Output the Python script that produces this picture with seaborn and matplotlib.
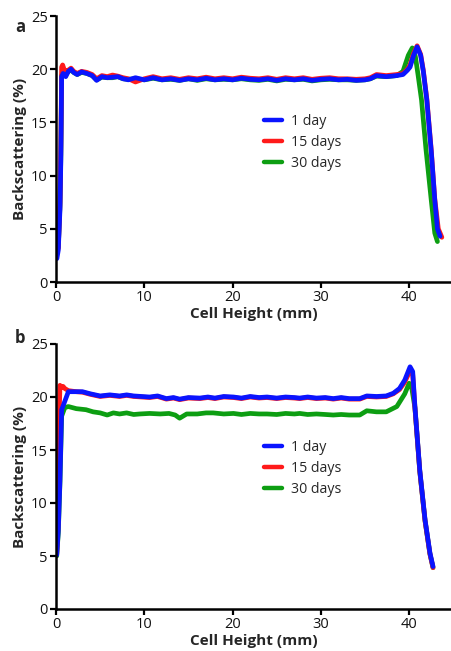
import matplotlib
matplotlib.use("Agg")
import matplotlib.pyplot as plt
import seaborn as sns
import pandas as pd

# ---------------- data ----------------
labels = ["1 day", "15 days", "30 days"]
colors = {"1 day": "#0a14ff", "15 days": "#ff1a1a", "30 days": "#0d9e12"}

# Panel a
a_1day = [(0.1, 2.2), (0.26, 3.0), (0.45, 6.8), (0.55, 11.5), (0.64, 19.3), (0.8, 19.6),
          (1.1, 19.3), (1.4, 19.8), (1.7, 20.0), (2.0, 19.7), (2.4, 19.5), (2.9, 19.75),
          (3.5, 19.6), (4.1, 19.4), (4.6, 18.95), (5.2, 19.3), (5.8, 19.2), (6.4, 19.25),
          (7.0, 19.3), (7.6, 19.1), (8.2, 19.0), (9.0, 19.2), (10.0, 19.0), (11, 19.2),
          (12, 19.0), (13, 19.1), (14, 18.95), (15, 19.1), (16, 19.0), (17, 19.15),
          (18, 19.0), (19, 19.1), (20, 19.0), (21, 19.15), (22, 19.05), (23, 19.0),
          (24, 19.1), (25, 18.95), (26, 19.1), (27, 19.0), (28, 19.1), (29, 18.95),
          (30, 19.05), (31, 19.1), (32, 19.0), (33, 19.05), (34, 18.95), (35, 19.0),
          (35.6, 19.1), (36.3, 19.4), (37.4, 19.3), (38.6, 19.4), (39.3, 19.5), (39.8, 19.9),
          (40.1, 20.2), (40.5, 21.3), (40.9, 22.1), (41.3, 21.3), (41.6, 19.8), (42.0, 17.1),
          (42.5, 12.3), (42.9, 7.7), (43.2, 5.0), (43.5, 4.3)]
a_15days = [(0.03, 2.6), (0.26, 3.2), (0.45, 7.5), (0.55, 13.0), (0.64, 20.2), (0.75, 20.4),
            (0.95, 19.9), (1.2, 19.8), (1.7, 20.1), (2.0, 19.8), (2.4, 19.6), (2.9, 19.8),
            (3.5, 19.7), (4.1, 19.5), (4.6, 19.1), (5.2, 19.4), (5.8, 19.3), (6.4, 19.45),
            (7.0, 19.35), (7.6, 19.2), (8.2, 19.1), (9.0, 18.8), (10.0, 19.1), (11, 19.3),
            (12, 19.1), (13, 19.2), (14, 19.05), (15, 19.2), (16, 19.1), (17, 19.25),
            (18, 19.1), (19, 19.2), (20, 19.1), (21, 19.25), (22, 19.15), (23, 19.1),
            (24, 19.2), (25, 19.05), (26, 19.2), (27, 19.1), (28, 19.2), (29, 19.05),
            (30, 19.15), (31, 19.2), (32, 19.1), (33, 19.1), (34, 19.05), (35, 19.1),
            (35.6, 19.2), (36.3, 19.5), (37.4, 19.4), (38.6, 19.5), (39.3, 19.6), (39.8, 20.0),
            (40.1, 20.4), (40.5, 21.5), (40.9, 22.2), (41.3, 21.4), (41.6, 19.9), (42.0, 17.2),
            (42.5, 12.4), (42.9, 7.8), (43.3, 5.0), (43.7, 4.2)]
a_30days = [(0.03, 2.7), (0.26, 3.3), (0.45, 7.2), (0.55, 12.0), (0.64, 19.4), (0.8, 19.7),
            (1.1, 19.5), (1.4, 19.8), (1.7, 19.9), (2.0, 19.7), (2.4, 19.5), (2.9, 19.7),
            (3.5, 19.6), (4.1, 19.4), (4.6, 19.0), (5.2, 19.25), (5.8, 19.2), (6.4, 19.2),
            (7.0, 19.3), (7.6, 19.1), (8.2, 19.05), (9.0, 19.1), (10.0, 19.0), (11, 19.15),
            (12, 19.0), (13, 19.05), (14, 18.95), (15, 19.1), (16, 18.95), (17, 19.1),
            (18, 19.0), (19, 19.05), (20, 19.0), (21, 19.1), (22, 19.0), (23, 18.95),
            (24, 19.05), (25, 18.9), (26, 19.05), (27, 19.0), (28, 19.05), (29, 18.9),
            (30, 19.0), (31, 19.05), (32, 19.0), (33, 19.0), (34, 18.95), (35, 19.0),
            (35.6, 19.1), (36.3, 19.35), (37.4, 19.3), (38.6, 19.4), (39.3, 19.8), (39.9, 21.3),
            (40.35, 22.0), (40.7, 21.2), (41.0, 19.5), (41.4, 17.1), (41.9, 12.5),
            (42.5, 7.7), (42.9, 4.6), (43.2, 3.8)]

# Panel b
b_1day = [(0.08, 5.1), (0.26, 7.4), (0.45, 12.2), (0.64, 18.8), (1.0, 19.6), (1.4, 20.5),
          (2.3, 20.5), (3.0, 20.5), (3.9, 20.3), (5.0, 20.1), (6.1, 20.2), (7.2, 20.1),
          (8.0, 20.2), (8.8, 20.1), (9.7, 20.05), (10.6, 20.0), (11.5, 20.1), (12.5, 19.85),
          (13.3, 19.95), (14.0, 19.8), (15.0, 19.95), (16.3, 19.9), (17.2, 20.0), (18.0, 19.9),
          (19.0, 20.05), (20.1, 20.0), (21.0, 19.9), (22.0, 20.05), (23.0, 19.95), (23.9, 20.0),
          (25.0, 19.9), (26.0, 20.0), (27.0, 19.95), (27.6, 19.9), (28.5, 20.0), (29.5, 19.9),
          (30.5, 19.95), (31.4, 19.85), (32.3, 19.95), (33.2, 19.85), (34.4, 19.85), (35.2, 20.1),
          (36.3, 20.05), (37.4, 20.1), (38.2, 20.35), (38.9, 20.8), (39.5, 21.6), (40.1, 22.85),
          (40.4, 22.4), (40.65, 19.1), (41.2, 13.1), (41.8, 8.4), (42.35, 5.3), (42.7, 4.0)]
b_15days = [(0.08, 5.2), (0.26, 8.5), (0.4, 19.5), (0.45, 21.1), (0.6, 20.9), (0.8, 21.0),
            (1.0, 20.8), (1.4, 20.6), (2.3, 20.5), (3.0, 20.45), (3.9, 20.25), (5.0, 20.05),
            (6.1, 20.15), (7.2, 20.05), (8.0, 20.15), (8.8, 20.05), (9.7, 20.0), (10.6, 19.95),
            (11.5, 20.05), (12.5, 19.8), (13.3, 19.9), (14.0, 19.75), (15.0, 19.9), (16.3, 19.85),
            (17.2, 19.95), (18.0, 19.85), (19.0, 20.0), (20.1, 19.95), (21.0, 19.85), (22.0, 20.0),
            (23.0, 19.9), (23.9, 19.95), (25.0, 19.85), (26.0, 19.95), (27.0, 19.9), (27.6, 19.85),
            (28.5, 19.95), (29.5, 19.85), (30.5, 19.9), (31.4, 19.8), (32.3, 19.9), (33.2, 19.8),
            (34.4, 19.8), (35.2, 20.05), (36.3, 20.0), (37.4, 20.05), (38.2, 20.3), (38.9, 20.7),
            (39.5, 21.4), (40.1, 22.5), (40.4, 22.1), (40.65, 19.0), (41.2, 13.0), (41.8, 8.3),
            (42.35, 5.2), (42.7, 3.9)]
b_30days = [(0.08, 5.0), (0.26, 7.2), (0.45, 12.0), (0.64, 18.2), (1.0, 19.0), (1.4, 19.1),
            (2.3, 18.9), (3.4, 18.8), (4.2, 18.6), (5.0, 18.5), (5.8, 18.3), (6.5, 18.5),
            (7.2, 18.4), (8.0, 18.5), (8.8, 18.35), (9.5, 18.4), (10.6, 18.45), (11.8, 18.4),
            (12.8, 18.45), (13.5, 18.3), (14.0, 18.0), (14.8, 18.4), (16.0, 18.4), (17.0, 18.5),
            (17.8, 18.5), (19.0, 18.4), (20.1, 18.45), (21.0, 18.35), (22.0, 18.45), (23.0, 18.4),
            (23.9, 18.4), (25.0, 18.35), (26.0, 18.45), (27.0, 18.4), (27.6, 18.45), (28.5, 18.35),
            (29.5, 18.4), (30.5, 18.35), (31.4, 18.3), (32.3, 18.35), (33.2, 18.3), (34.4, 18.3),
            (35.2, 18.7), (36.3, 18.6), (37.4, 18.6), (38.6, 19.1), (39.5, 20.3), (40.0, 21.3),
            (40.3, 20.8), (40.65, 19.0), (41.2, 13.0), (41.8, 8.3), (42.35, 5.2), (42.7, 3.9)]

panels = [("a", {"1 day": a_1day, "15 days": a_15days, "30 days": a_30days}),
          ("b", {"1 day": b_1day, "15 days": b_15days, "30 days": b_30days})]

x_ticks = [0, 10, 20, 30, 40]
y_ticks = [0, 5, 10, 15, 20, 25]

# ---------------- plotting ----------------
sns.set_theme(style="ticks")
plt.rcParams["font.family"] = ["Open Sans", "DejaVu Sans"]

W, H = 452, 651
fig = plt.figure(figsize=(W / 100, H / 100), dpi=100)

def frac_box(left, top, right, bottom):
    return [left / W, 1 - bottom / H, (right - left) / W, (bottom - top) / H]

boxes = [frac_box(56, 16, 452, 282), frac_box(56, 344, 452, 609)]
legend_tops = [114, 440]
letter_pos = [(20, 27), (20, 338)]
draw_order = ["30 days", "15 days", "1 day"]

for (letter, series), box, ltop, lpos in zip(panels, boxes, legend_tops, letter_pos):
    ax = fig.add_axes(box)
    rows = []
    for lab in labels:
        for i, (xv, yv) in enumerate(series[lab]):
            rows.append({"x": xv, "y": yv, "series": lab, "order": i})
    df = pd.DataFrame(rows)
    sns.lineplot(data=df, x="x", y="y", hue="series", hue_order=draw_order,
                 palette=colors, estimator=None, sort=False, linewidth=3.4,
                 ax=ax, legend=False, solid_capstyle="round")
    ax.set_xlim(0, 44.85)
    ax.set_ylim(0, 25)
    ax.set_xticks(x_ticks)
    ax.set_yticks(y_ticks)
    ax.tick_params(axis="both", direction="out", length=4, width=1.6,
                   labelsize=10.5, pad=2, color="black", labelcolor="#111111")
    for s in ["left", "bottom"]:
        ax.spines[s].set_linewidth(1.8)
        ax.spines[s].set_color("black")
    ax.spines["top"].set_visible(False)
    ax.spines["right"].set_visible(False)
    ax.set_xlabel("Cell Height (mm)", fontsize=11, fontweight="bold", labelpad=1)
    ax.set_ylabel("Backscattering (%)", fontsize=11, fontweight="bold", labelpad=3)

    handles = [plt.Line2D([], [], color=colors[lab], lw=3.2) for lab in labels]
    fig.legend(handles, labels, loc="upper left",
               bbox_to_anchor=(264 / W, 1 - ltop / H), frameon=False,
               fontsize=10.2, handlelength=1.25, handletextpad=0.65,
               labelspacing=0.42, borderaxespad=0, borderpad=0)
    fig.text(lpos[0] / W, 1 - lpos[1] / H, letter, fontsize=12, fontweight="bold",
             ha="center", va="center")

fig.savefig("out.png", dpi=100)
